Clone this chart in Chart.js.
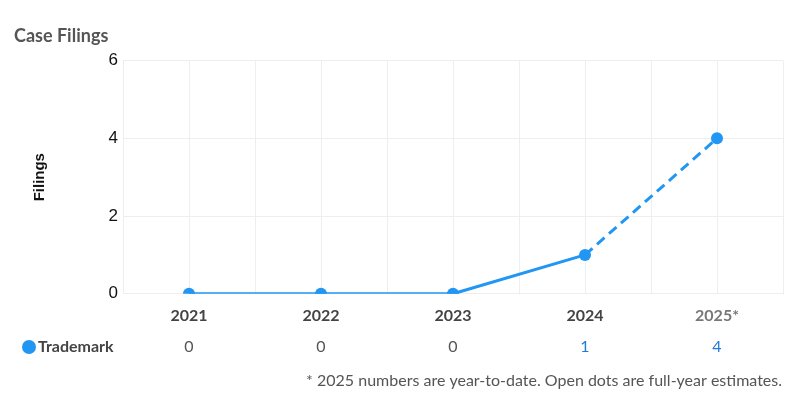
<!DOCTYPE html>
<html>
<head>
<meta charset="utf-8">
<script src="https://cdn.jsdelivr.net/npm/chart.js@4.4.1/dist/chart.umd.min.js"></script>
<style>
  html, body { margin: 0; padding: 0; background: #fff; }
  #wrap { width: 800px; height: 402px; position: relative; }
</style>
</head>
<body>
<div id="wrap"><canvas id="filingsChart"></canvas></div>
<script>
// data
var years = ['2021', '2022', '2023', '2024', '2025*'];
var trademark = [0, 0, 0, 1, 4];
var seriesName = 'Trademark';
var yTicks = [0, 2, 4, 6];
var footnote = '* 2025 numbers are year-to-date. Open dots are full-year estimates.';

var blue = '#2196F3';

var points = trademark.map(function(v, i) {
    return { x: i, y: v };
});

// table row under the axis + footnote
var tableRow = {
    id: 'tableRow',
    afterDraw: function(chart) {
        var ctx = chart.ctx;
        var xs = chart.scales.x;
        var rowY = 347;
        ctx.save();
        ctx.textBaseline = 'middle';

        // legend dot + name
        ctx.fillStyle = blue;
        ctx.beginPath();
        ctx.arc(29, rowY, 7, 0, Math.PI * 2);
        ctx.fill();
        ctx.fillStyle = '#444';
        ctx.font = 'bold 16px Lato';
        ctx.textAlign = 'left';
        ctx.fillText(seriesName, 38, rowY);

        // values
        ctx.font = '16px Lato';
        ctx.textAlign = 'center';
        trademark.forEach(function(v, i) {
            ctx.fillStyle = v > 0 ? '#1E7BD6' : '#555';
            ctx.fillText(String(v), xs.getPixelForValue(i), rowY);
        });

        // footnote
        ctx.fillStyle = '#555';
        ctx.textAlign = 'right';
        ctx.fillText(footnote, 782, 381);
        ctx.restore();
    }
};

var ctx = document.getElementById('filingsChart').getContext('2d');
var chart = new Chart(ctx, {
    type: 'line',
    data: {
        datasets: [{
            label: seriesName,
            data: points,
            borderColor: blue,
            backgroundColor: blue,
            borderWidth: 3,
            pointRadius: 6,
            pointHoverRadius: 6,
            pointBorderWidth: 0,
            tension: 0,
            segment: {
                // last segment is the estimate
                borderDash: function(c) { return c.p1DataIndex === years.length - 1 ? [10, 6] : undefined; }
            }
        }]
    },
    options: {
        responsive: true,
        maintainAspectRatio: false,
        animation: false,
        layout: { padding: { left: 14, right: 17, top: 0, bottom: 65 } },
        plugins: {
            legend: { display: false },
            tooltip: { enabled: false },
            title: {
                display: true,
                text: 'Case Filings',
                align: 'start',
                color: '#555',
                font: { family: 'Lato', size: 18, weight: 'bold' },
                padding: { top: 25, bottom: 14 },
                fullSize: true
            }
        },
        scales: {
            x: {
                type: 'linear',
                min: -0.5,
                max: years.length - 0.5,
                grid: { color: '#eeeeee', drawTicks: false },
                border: { display: false },
                afterBuildTicks: function(s) {
                    var t = [];
                    for (var v = -0.5; v <= years.length - 0.5; v += 0.5) t.push({ value: v });
                    s.ticks = t;
                },
                ticks: {
                    autoSkip: false,
                    maxRotation: 0,
                    padding: 12,
                    font: { family: 'Lato', size: 16, weight: 'bold' },
                    color: function(c) { return c.tick && c.tick.value === years.length - 1 ? '#777' : '#444'; },
                    callback: function(v) {
                        return Number.isInteger(v) ? years[v] : '';
                    }
                }
            },
            y: {
                min: yTicks[0],
                max: yTicks[yTicks.length - 1],
                grid: { color: '#eeeeee', drawTicks: false },
                border: { display: false },
                afterBuildTicks: function(s) {
                    s.ticks = yTicks.map(function(v) { return { value: v }; });
                },
                afterFit: function(s) { s.width = 109; },
                ticks: {
                    padding: 5,
                    color: '#111',
                    font: { size: 17 }
                },
                title: {
                    display: true,
                    text: 'Filings',
                    color: '#111',
                    font: { size: 15, weight: 'bold' },
                    padding: { top: 17, bottom: 0 }
                }
            }
        }
    },
    plugins: [tableRow]
});
</script>
</body>
</html>
